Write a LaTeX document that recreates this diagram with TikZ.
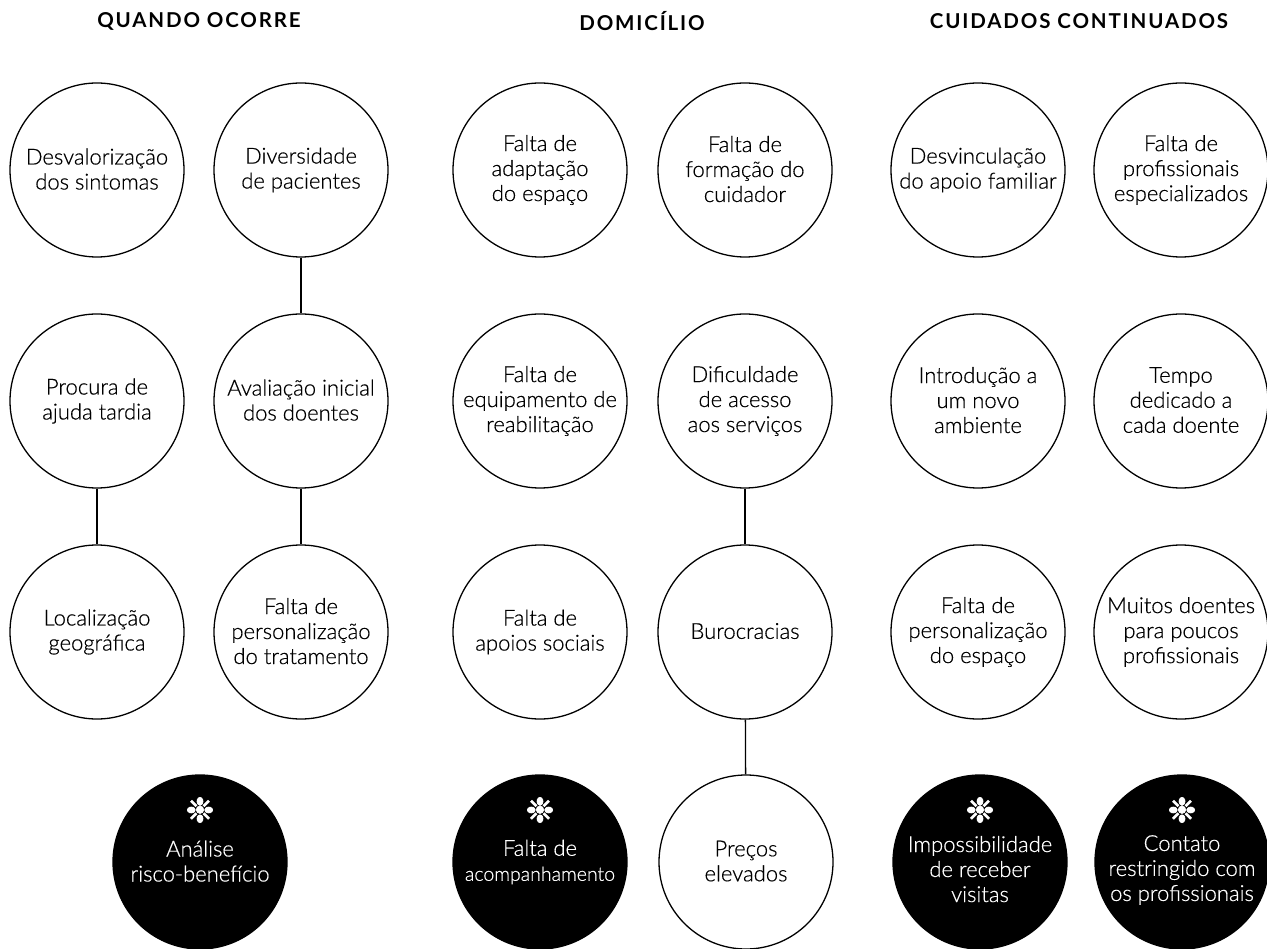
\documentclass[tikz,border=0pt]{standalone}
\usepackage{fontspec}
\setmainfont{Lato Light}[FakeBold=0.5]
\newfontfamily\symfont{DejaVu Sans}[FakeBold=2]
\newfontfamily\headfam[LetterSpace=9]{Lato}
\newcommand{\mystrut}{\rule[-2pt]{0pt}{17pt}}
\begin{document}
\begin{tikzpicture}[x=1pt,y=-1pt,
  bub/.style={circle,draw=black,line width=1.3pt,minimum size=174pt,inner sep=0pt,align=center,
    font=\fontsize{22}{25}\selectfont,execute at begin node=\mystrut,execute at end node=\mystrut},
  dark/.style={circle,draw=black,fill=black,line width=1.3pt,minimum size=174pt,inner sep=0pt},
  wtext/.style={align=center,text=white,inner sep=0pt,font=\fontsize{22}{25}\selectfont,
    execute at begin node=\mystrut,execute at end node=\mystrut},
  ast/.style={text=white,inner sep=0pt,font=\symfont\fontsize{34}{34}\selectfont},
  head/.style={font=\headfam\bfseries\fontsize{20.5}{20.5}\selectfont},
  con/.style={draw=black,line width=1.3pt}]
\useasboundingbox (0,0) rectangle (1267,949);

% headings
\node[head] (h1) at (199,21) {QUANDO OCORRE};
\node[head] (h2) at (642,21) {DOMICÍLIO};
\node[head] (h3) at (1079,21) {CUIDADOS CONTINUADOS};

% column 1
\node[bub] (a1) at (97,170) {Desvalorização\\dos sintomas};
\node[bub] (a2) at (301,170) {Diversidade\\de pacientes};
\node[bub] (a3) at (97,401) {Procura de\\ajuda tardia};
\node[bub] (a4) at (301,401) {Avaliação inicial\\dos doentes};
\node[bub] (a5) at (97,632) {Localização\\geográfica};
\node[bub] (a6) at (301,632) {Falta de\\personalização\\do tratamento};
\node[dark] (a7) at (200,862) {};
\node[ast] (a7s) at ([yshift=52pt]a7.center) {❉};
\node[wtext] (a7t) at (a7.center) {Análise\\risco-benefício};

% column 2
\node[bub] (b1) at (540,170) {Falta de\\adaptação\\do espaço};
\node[bub] (b2) at (745,170) {Falta de\\formação do\\cuidador};
\node[bub] (b3) at (540,401) {Falta de\\equipamento de\\reabilitação};
\node[bub] (b4) at (745,401) {Dificuldade\\de acesso\\aos serviços};
\node[bub] (b5) at (540,632) {Falta de\\apoios sociais};
\node[bub] (b6) at (745,632) {Burocracias};
\node[dark] (b7) at (540,862) {};
\node[ast] (b7s) at ([yshift=52pt]b7.center) {❉};
\node[wtext] (b7t) at (b7.center) {Falta de\\{\fontsize{19.5}{23}\selectfont acompanhamento}};
\node[bub] (b8) at (746,862) {Preços\\elevados};

% column 3
\node[bub] (c1) at (978,170) {Desvinculação\\do apoio familiar};
\node[bub] (c2) at (1181,170) {Falta de\\profissionais\\especializados};
\node[bub] (c3) at (978,401) {Introdução a\\um novo\\ambiente};
\node[bub] (c4) at (1181,401) {Tempo\\dedicado a\\cada doente};
\node[bub] (c5) at (978,632) {Falta de\\personalização\\do espaço};
\node[bub] (c6) at (1181,632) {Muitos doentes\\para poucos\\profissionais};
\node[dark] (c7) at (980,862) {};
\node[ast] (c7s) at ([yshift=52pt]c7.center) {❉};
\node[wtext] (c7t) at ([yshift=-8pt]c7.center) {Impossibilidade\\de receber\\visitas};
\node[dark] (c8) at (1182,862) {};
\node[ast] (c8s) at ([yshift=52pt]c8.center) {❉};
\node[wtext] (c8t) at ([yshift=-8pt]c8.center) {Contato\\restringido com\\os profissionais};

% connectors
\draw[con] (a2) -- (a4);
\draw[con] (a4) -- (a6);
\draw[con] (a3) -- (a5);
\draw[con] (b4) -- (b6);
\draw[con] (b6) -- (b8);
\end{tikzpicture}
\end{document}
